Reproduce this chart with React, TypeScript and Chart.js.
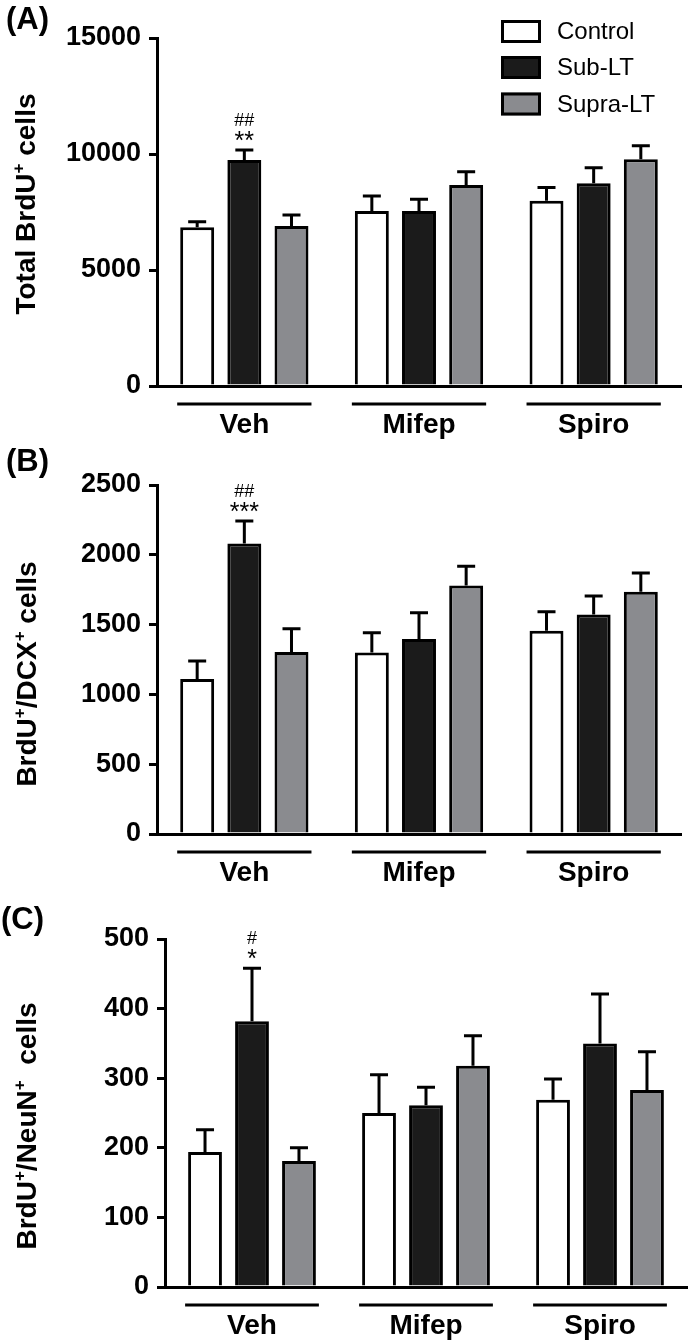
import React, { useEffect, useRef } from 'react';
import { Chart, registerables } from 'chart.js';
Chart.register(...registerables);

const FONT = '"Liberation Sans", Arial, Helvetica, sans-serif';

const groups = ['Veh', 'Mifep', 'Spiro'];
const seriesLabels = ['Control', 'Sub-LT', 'Supra-LT'];
const seriesColors = ['#ffffff', '#1b1b1b', '#8a8b8f'];

// Panel A: Total BrdU+ cells (mean, SEM)
const totalControl = [6840, 7540, 7990];
const totalControlSem = [240, 650, 570];
const totalSubLT = [9740, 7540, 8740];
const totalSubLTSem = [430, 510, 670];
const totalSupraLT = [6900, 8660, 9770];
const totalSupraLTSem = [470, 580, 590];
const totalTicks = [0, 5000, 10000, 15000];
const totalMarks = ['##', '**'];

// Panel B: BrdU+/DCX+ cells
const dcxControl = [1110, 1300, 1456];
const dcxControlSem = [129, 141, 136];
const dcxSubLT = [2081, 1396, 1573];
const dcxSubLTSem = [161, 189, 131];
const dcxSupraLT = [1303, 1780, 1735];
const dcxSupraLTSem = [167, 138, 135];
const dcxTicks = [0, 500, 1000, 1500, 2000, 2500];
const dcxMarks = ['##', '***'];

// Panel C: BrdU+/NeuN+ cells
const neunControl = [194, 250, 269];
const neunControlSem = [32, 55, 30];
const neunSubLT = [382, 261, 350];
const neunSubLTSem = [76, 26, 71];
const neunSupraLT = [181, 318, 283];
const neunSupraLTSem = [19, 43, 55];
const neunTicks = [0, 100, 200, 300, 400, 500];
const neunMarks = ['#', '*'];

type Panel = {
  key: string;
  letter: string;
  letterX: number;
  letterY: number;
  title: [string, boolean][];
  titleX: number;
  titleY: number;
  top: number;
  zero: number;
  left: number;
  right: number;
  ticks: number[];
  values: number[][];
  sems: number[][];
  marks: string[];
  markGroup: number;
  markSeries: number;
  legend: boolean;
};

const panels: Panel[] = [
  {
    key: 'A', letter: '(A)', letterX: 6, letterY: 21,
    title: [['Total BrdU', false], ['+', true], [' cells', false]],
    titleX: 35, titleY: 204,
    top: 38, zero: 386, left: 157, right: 681,
    ticks: totalTicks,
    values: [totalControl, totalSubLT, totalSupraLT],
    sems: [totalControlSem, totalSubLTSem, totalSupraLTSem],
    marks: totalMarks, markGroup: 0, markSeries: 1, legend: true,
  },
  {
    key: 'B', letter: '(B)', letterX: 6, letterY: 463,
    title: [['BrdU', false], ['+', true], ['/DCX', false], ['+', true], [' cells', false]],
    titleX: 36, titleY: 674,
    top: 485, zero: 834, left: 157, right: 681,
    ticks: dcxTicks,
    values: [dcxControl, dcxSubLT, dcxSupraLT],
    sems: [dcxControlSem, dcxSubLTSem, dcxSupraLTSem],
    marks: dcxMarks, markGroup: 0, markSeries: 1, legend: false,
  },
  {
    key: 'C', letter: '(C)', letterX: 1, letterY: 921,
    title: [['BrdU', false], ['+', true], ['/NeuN', false], ['+', true], ['  cells', false]],
    titleX: 36, titleY: 1126,
    top: 939, zero: 1287, left: 165, right: 687,
    ticks: neunTicks,
    values: [neunControl, neunSubLT, neunSupraLT],
    sems: [neunControlSem, neunSubLTSem, neunSupraLTSem],
    marks: neunMarks, markGroup: 0, markSeries: 1, legend: false,
  },
];

const W = 688;
const H = 1344;
const XAXIS_H = 54;

function drawCentered(ctx: CanvasRenderingContext2D, text: string, x: number, cy: number, align: CanvasTextAlign = 'center') {
  ctx.textAlign = align;
  ctx.textBaseline = 'alphabetic';
  const m = ctx.measureText(text);
  const base = cy + (m.actualBoundingBoxAscent - m.actualBoundingBoxDescent) / 2;
  ctx.fillText(text, x, base);
}

function makeDeco(p: Panel) {
  return {
    id: 'deco' + p.key,
    afterDatasetsDraw(chart: any) {
      const ctx: CanvasRenderingContext2D = chart.ctx;
      const yScale = chart.scales.y;
      ctx.save();
      ctx.strokeStyle = '#000';
      ctx.fillStyle = '#000';
      ctx.lineWidth = 3;
      ctx.lineCap = 'butt';
      // error bars (upper SEM)
      chart.data.datasets.forEach((ds: any, di: number) => {
        const meta = chart.getDatasetMeta(di);
        meta.data.forEach((el: any, i: number) => {
          const v = ds.data[i];
          const top = yScale.getPixelForValue(v + ds.sem[i]);
          ctx.beginPath();
          ctx.moveTo(el.x, el.y);
          ctx.lineTo(el.x, top);
          ctx.moveTo(el.x - 9, top);
          ctx.lineTo(el.x + 9, top);
          ctx.stroke();
        });
      });
      // group underlines
      const m0 = chart.getDatasetMeta(0);
      const m2 = chart.getDatasetMeta(2);
      for (let g = 0; g < groups.length; g++) {
        const a = m0.data[g];
        const b = m2.data[g];
        const x1 = a.x - a.width / 2 - 3;
        const x2 = b.x + b.width / 2 + 3;
        ctx.beginPath();
        ctx.moveTo(x1, p.zero + 18);
        ctx.lineTo(x2, p.zero + 18);
        ctx.stroke();
      }
      // significance marks
      const ds = chart.data.datasets[p.markSeries];
      const el = chart.getDatasetMeta(p.markSeries).data[p.markGroup];
      const errTop = yScale.getPixelForValue(ds.data[p.markGroup] + ds.sem[p.markGroup]);
      ctx.font = `18px ${FONT}`;
      drawCentered(ctx, p.marks[0], el.x, errTop - 31);
      ctx.font = `25px ${FONT}`;
      drawCentered(ctx, p.marks[1], el.x, errTop - 14);
      ctx.restore();
    },
    afterDraw(chart: any) {
      const ctx: CanvasRenderingContext2D = chart.ctx;
      ctx.save();
      ctx.fillStyle = '#000';
      // panel letter
      ctx.font = `bold 31px ${FONT}`;
      drawCentered(ctx, p.letter, p.letterX, p.letterY, 'left');
      // y title with superscripts
      ctx.save();
      ctx.translate(p.titleX, p.titleY);
      ctx.rotate(-Math.PI / 2);
      const mainFont = `bold 28px ${FONT}`;
      const supFont = `bold 17px ${FONT}`;
      let total = 0;
      for (const [t, sup] of p.title) {
        ctx.font = sup ? supFont : mainFont;
        total += ctx.measureText(t).width;
      }
      let x = -total / 2;
      ctx.textAlign = 'left';
      ctx.textBaseline = 'alphabetic';
      for (const [t, sup] of p.title) {
        ctx.font = sup ? supFont : mainFont;
        ctx.fillText(t, x, sup ? -11 : 0);
        x += ctx.measureText(t).width;
      }
      ctx.restore();
      // legend
      if (p.legend) {
        const rows = [31.5, 67.5, 104];
        chart.data.datasets.forEach((ds: any, i: number) => {
          const bx = 501, bw = 40, bh = 23;
          const by = rows[i] - bh / 2;
          ctx.fillStyle = ds.backgroundColor;
          ctx.fillRect(bx, by, bw, bh);
          ctx.strokeStyle = '#000';
          ctx.lineWidth = 3;
          ctx.strokeRect(bx + 1.5, by + 1.5, bw - 3, bh - 3);
          ctx.fillStyle = '#000';
          ctx.font = `24px ${FONT}`;
          ctx.textAlign = 'left';
          ctx.textBaseline = 'middle';
          ctx.fillText(ds.label, 557, rows[i] + 1);
        });
      }
      ctx.restore();
    },
  };
}

function makeChart(canvas: HTMLCanvasElement, p: Panel) {
  const tickFont = { family: FONT, size: 27, weight: 'bold' as const };
  return new Chart(canvas, {
    type: 'bar',
    data: {
      labels: groups,
      datasets: p.values.map((vals, i) => ({
        label: seriesLabels[i],
        data: vals,
        sem: p.sems[i],
        backgroundColor: seriesColors[i],
        borderColor: '#000',
        borderWidth: 3,
        borderSkipped: 'start',
        categoryPercentage: 0.81,
        barPercentage: 0.72,
      })) as any,
    },
    options: {
      responsive: false,
      animation: false,
      devicePixelRatio: 1,
      layout: {
        padding: { left: 0, top: p.top, right: W - p.right, bottom: H - p.zero - XAXIS_H },
      },
      plugins: { legend: { display: false }, tooltip: { enabled: false } },
      scales: {
        x: {
          type: 'category',
          grid: { display: false, drawTicks: false },
          border: { display: true, color: '#000', width: 3 },
          ticks: { color: '#000', font: { family: FONT, size: 28, weight: 'bold' }, padding: 22, maxRotation: 0, autoSkip: false },
          afterFit: (s: any) => { s.height = XAXIS_H; },
        },
        y: {
          min: 0,
          max: p.ticks[p.ticks.length - 1],
          afterBuildTicks: (s: any) => { s.ticks = p.ticks.map((v) => ({ value: v })); },
          ticks: { color: '#000', font: tickFont, padding: 8, callback: (v: any) => String(v) },
          grid: { drawOnChartArea: false, drawTicks: true, tickLength: 8, color: '#000', lineWidth: 3 },
          border: { display: true, color: '#000', width: 3 },
          afterFit: (s: any) => { s.width = p.left; },
        },
      },
    } as any,
    plugins: [makeDeco(p)],
  });
}

export default function App() {
  const r0 = useRef<HTMLCanvasElement>(null);
  const r1 = useRef<HTMLCanvasElement>(null);
  const r2 = useRef<HTMLCanvasElement>(null);
  const refs = [r0, r1, r2];
  useEffect(() => {
    const charts = panels.map((p, i) => makeChart(refs[i].current as HTMLCanvasElement, p));
    return () => charts.forEach((c) => c.destroy());
  }, []);
  return (
    <div style={{ position: 'absolute', left: 0, top: 0, width: W, height: H, background: '#fff', overflow: 'hidden' }}>
      {panels.map((p, i) => (
        <canvas key={p.key} ref={refs[i]} width={W} height={H} style={{ position: 'absolute', left: 0, top: 0 }} />
      ))}
    </div>
  );
}
